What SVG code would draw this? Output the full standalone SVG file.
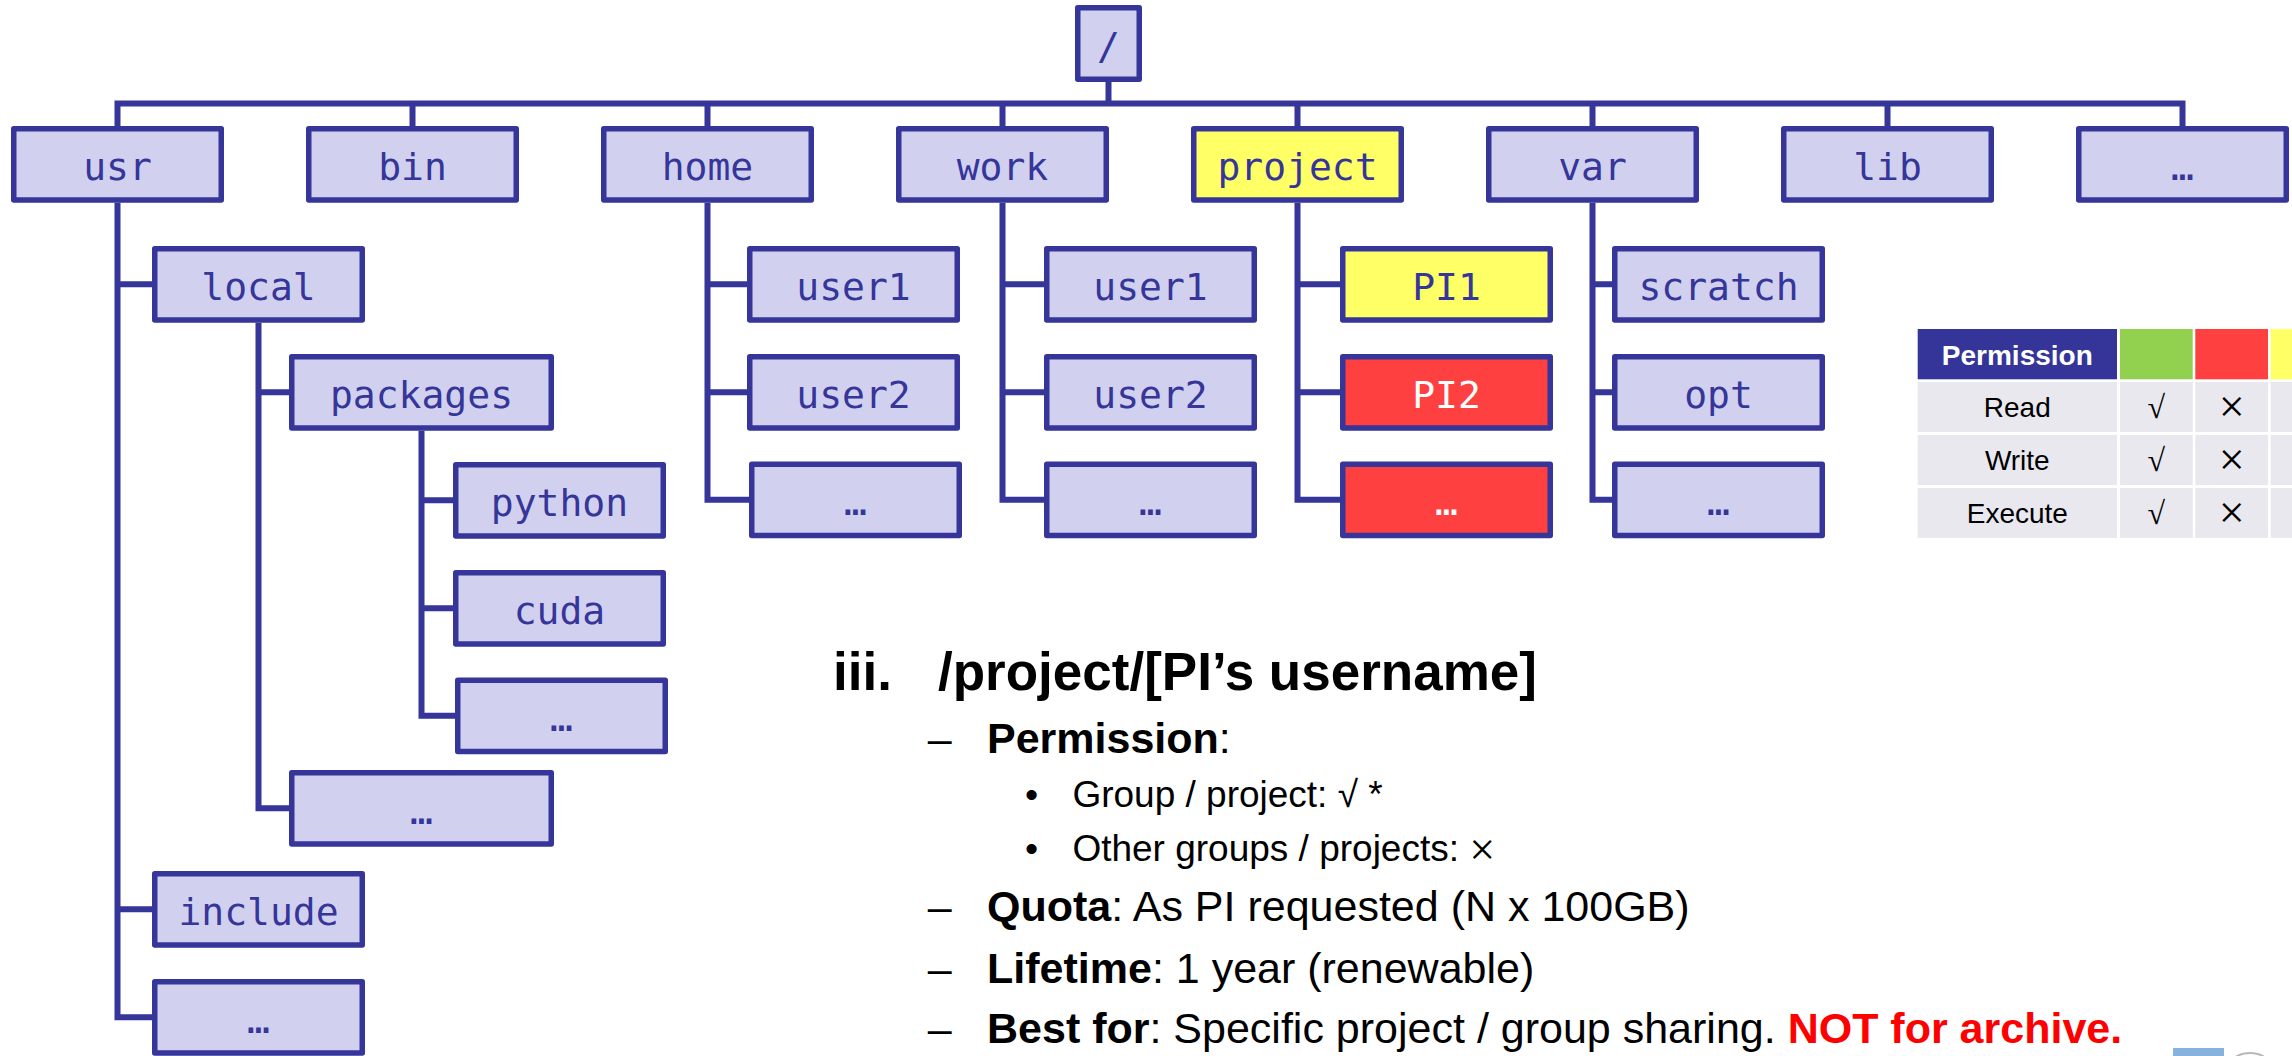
<svg xmlns="http://www.w3.org/2000/svg" width="2292" height="1056" viewBox="0 0 2292 1056">
<style>
.box rect{fill:#D1D1EF;stroke:#35359A;stroke-width:5.5;stroke-linejoin:round}
.box text{font-family:"DejaVu Sans Mono","Liberation Mono",monospace;font-size:38px;fill:#35359A;text-anchor:middle}
.box.yl rect{fill:#FFFF66}
.box.rd rect{fill:#FF4040}
.box.rd text{fill:#FFFFFF}
.conn path{fill:none;stroke:#35359A;stroke-width:6;stroke-linejoin:miter}
.tb{font-family:"Liberation Sans",Arial,sans-serif;font-size:28px;text-anchor:middle;fill:#000}
.sym{font-family:"Liberation Serif","Times New Roman",serif;text-anchor:middle;fill:#000}
.txt{font-family:"Liberation Sans",Arial,sans-serif;fill:#000}
.b{font-weight:bold}
.ser{font-family:"Liberation Serif","Times New Roman",serif}
</style>

<g class="conn" id="connectors">
<path d="M117.5,126 V103.5 H2182.5 V126"/>
<path d="M1108.5,82 V103.5"/>
<path d="M412.5,103.5 V126 M707.5,103.5 V126 M1002.5,103.5 V126 M1297.5,103.5 V126 M1592.5,103.5 V126 M1887.5,103.5 V126"/>
<path d="M117.5,202.7 V1017.35 H152 M117.5,284.35 H152 M117.5,909.35 H152"/>
<path d="M258.5,322.7 V808.35 H289 M258.5,392.35 H289"/>
<path d="M421.5,430.7 V715.85 H455 M421.5,500.35 H453 M421.5,608.35 H453"/>
<path d="M707.5,202.7 V499.85 H749 M707.5,284.35 H747 M707.5,392.35 H747"/>
<path d="M1002.5,202.7 V499.85 H1044 M1002.5,284.35 H1044 M1002.5,392.35 H1044"/>
<path d="M1297.5,202.7 V499.85 H1340 M1297.5,284.35 H1340 M1297.5,392.35 H1340"/>
<path d="M1592.5,202.7 V499.85 H1612 M1592.5,284.35 H1612 M1592.5,392.35 H1612"/>
</g>

<g class="box" id="root"><rect x="1077.75" y="7.75" width="61.5" height="71.5"/><text x="1108.5" y="59">/</text></g>

<g class="box" id="usr"><rect x="13.75" y="128.75" width="207.5" height="71.2"/><text x="117.5" y="180">usr</text></g>
<g class="box" id="bin"><rect x="308.75" y="128.75" width="207.5" height="71.2"/><text x="412.5" y="180">bin</text></g>
<g class="box" id="home"><rect x="603.75" y="128.75" width="207.5" height="71.2"/><text x="707.5" y="180">home</text></g>
<g class="box" id="work"><rect x="898.75" y="128.75" width="207.5" height="71.2"/><text x="1002.5" y="180">work</text></g>
<g class="box yl" id="project"><rect x="1193.75" y="128.75" width="207.5" height="71.2"/><text x="1297.5" y="180">project</text></g>
<g class="box" id="var"><rect x="1488.75" y="128.75" width="207.5" height="71.2"/><text x="1592.5" y="180">var</text></g>
<g class="box" id="lib"><rect x="1783.75" y="128.75" width="207.5" height="71.2"/><text x="1887.5" y="180">lib</text></g>
<g class="box" id="top-more"><rect x="2078.75" y="128.75" width="207.5" height="71.2"/><text x="2182.5" y="180">…</text></g>

<g class="box" id="usr-local"><rect x="154.75" y="248.75" width="207.5" height="71.2"/><text x="258.5" y="299.85">local</text></g>
<g class="box" id="local-packages"><rect x="291.75" y="356.75" width="259.5" height="71.2"/><text x="421.5" y="407.85">packages</text></g>
<g class="box" id="pkg-python"><rect x="455.75" y="464.75" width="207.5" height="71.2"/><text x="559.5" y="515.85">python</text></g>
<g class="box" id="pkg-cuda"><rect x="455.75" y="572.75" width="207.5" height="71.2"/><text x="559.5" y="623.85">cuda</text></g>
<g class="box" id="pkg-more"><rect x="457.75" y="680.25" width="207.5" height="71.2"/><text x="561.5" y="731.35">…</text></g>
<g class="box" id="local-more"><rect x="291.75" y="772.75" width="259.5" height="71.2"/><text x="421.5" y="823.85">…</text></g>
<g class="box" id="usr-include"><rect x="154.75" y="873.75" width="207.5" height="71.2"/><text x="258.5" y="924.85">include</text></g>
<g class="box" id="usr-more"><rect x="154.75" y="981.75" width="207.5" height="71.2"/><text x="258.5" y="1032.85">…</text></g>

<g class="box" id="home-user1"><rect x="749.75" y="248.75" width="207.5" height="71.2"/><text x="853.5" y="299.85">user1</text></g>
<g class="box" id="home-user2"><rect x="749.75" y="356.75" width="207.5" height="71.2"/><text x="853.5" y="407.85">user2</text></g>
<g class="box" id="home-more"><rect x="751.75" y="464.25" width="207.5" height="71.2"/><text x="855.5" y="515.35">…</text></g>

<g class="box" id="work-user1"><rect x="1046.75" y="248.75" width="207.5" height="71.2"/><text x="1150.5" y="299.85">user1</text></g>
<g class="box" id="work-user2"><rect x="1046.75" y="356.75" width="207.5" height="71.2"/><text x="1150.5" y="407.85">user2</text></g>
<g class="box" id="work-more"><rect x="1046.75" y="464.25" width="207.5" height="71.2"/><text x="1150.5" y="515.35">…</text></g>

<g class="box yl" id="project-pi1"><rect x="1342.75" y="248.75" width="207.5" height="71.2"/><text x="1446.5" y="299.85">PI1</text></g>
<g class="box rd" id="project-pi2"><rect x="1342.75" y="356.75" width="207.5" height="71.2"/><text x="1446.5" y="407.85">PI2</text></g>
<g class="box rd" id="project-more"><rect x="1342.75" y="464.25" width="207.5" height="71.2"/><text x="1446.5" y="515.35">…</text></g>

<g class="box" id="var-scratch"><rect x="1614.75" y="248.75" width="207.5" height="71.2"/><text x="1718.5" y="299.85">scratch</text></g>
<g class="box" id="var-opt"><rect x="1614.75" y="356.75" width="207.5" height="71.2"/><text x="1718.5" y="407.85">opt</text></g>
<g class="box" id="var-more"><rect x="1614.75" y="464.25" width="207.5" height="71.2"/><text x="1718.5" y="515.35">…</text></g>

<g id="permission-table">
<rect x="1917.7" y="329" width="199.3" height="50.3" fill="#353599"/>
<rect x="2120" y="329" width="72.7" height="50.3" fill="#92D050"/>
<rect x="2195.3" y="329" width="72.7" height="50.3" fill="#FF4040"/>
<rect x="2270.7" y="329" width="72.7" height="50.3" fill="#FFFF66"/>
<g fill="#E8E8EE">
<rect x="1917.7" y="382" width="199.3" height="50"/><rect x="2120" y="382" width="72.7" height="50"/><rect x="2195.3" y="382" width="72.7" height="50"/><rect x="2270.7" y="382" width="72.7" height="50"/>
<rect x="1917.7" y="435" width="199.3" height="50"/><rect x="2120" y="435" width="72.7" height="50"/><rect x="2195.3" y="435" width="72.7" height="50"/><rect x="2270.7" y="435" width="72.7" height="50"/>
<rect x="1917.7" y="488" width="199.3" height="50"/><rect x="2120" y="488" width="72.7" height="50"/><rect x="2195.3" y="488" width="72.7" height="50"/><rect x="2270.7" y="488" width="72.7" height="50"/>
</g>
<text class="tb b" x="2017.3" y="365" style="fill:#FFFFFF">Permission</text>
<text class="tb" x="2017.3" y="417.3">Read</text>
<text class="tb" x="2017.3" y="470">Write</text>
<text class="tb" x="2017.3" y="522.7">Execute</text>
<text class="sym" font-size="32" x="2156.4" y="418">√</text>
<text class="sym" font-size="32" x="2156.4" y="471">√</text>
<text class="sym" font-size="32" x="2156.4" y="524">√</text>
<text class="sym" font-size="46" x="2231.7" y="422">×</text>
<text class="sym" font-size="46" x="2231.7" y="475">×</text>
<text class="sym" font-size="46" x="2231.7" y="528">×</text>
</g>

<g id="description" class="txt">
<text class="b" x="833" y="690" font-size="53">iii.</text>
<text class="b" x="938" y="690" font-size="53">/project/[PI’s username]</text>
<text x="927.7" y="752.7" font-size="43">–</text>
<text x="987" y="752.7" font-size="43"><tspan class="b">Permission</tspan>:</text>
<text x="1025" y="806.7" font-size="37.5">•</text>
<text x="1072.4" y="806.7" font-size="37">Group / project: √ *</text>
<text x="1025" y="860.7" font-size="37.5">•</text>
<text x="1072.4" y="860.7" font-size="37">Other groups / projects: <tspan class="ser" font-size="46" dy="4">×</tspan></text>
<text x="927.7" y="921" font-size="43">–</text>
<text x="987" y="921" font-size="43"><tspan class="b">Quota</tspan>: As PI requested (N x 100GB)</text>
<text x="927.7" y="983.3" font-size="43">–</text>
<text x="987" y="983.3" font-size="43"><tspan class="b">Lifetime</tspan>: 1 year (renewable)</text>
<text x="927.7" y="1043.3" font-size="43">–</text>
<text x="987" y="1043.3" font-size="43"><tspan class="b">Best for</tspan>: Specific project / group sharing. <tspan class="b" fill="#FF0000">NOT for archive.</tspan></text>
</g>

<g id="corner-marks">
<rect x="2173" y="1048" width="51" height="8" fill="#86B2DE"/>
<ellipse cx="2250" cy="1062" rx="17" ry="9" fill="none" stroke="#B8B8B8" stroke-width="2"/>
</g>
</svg>
